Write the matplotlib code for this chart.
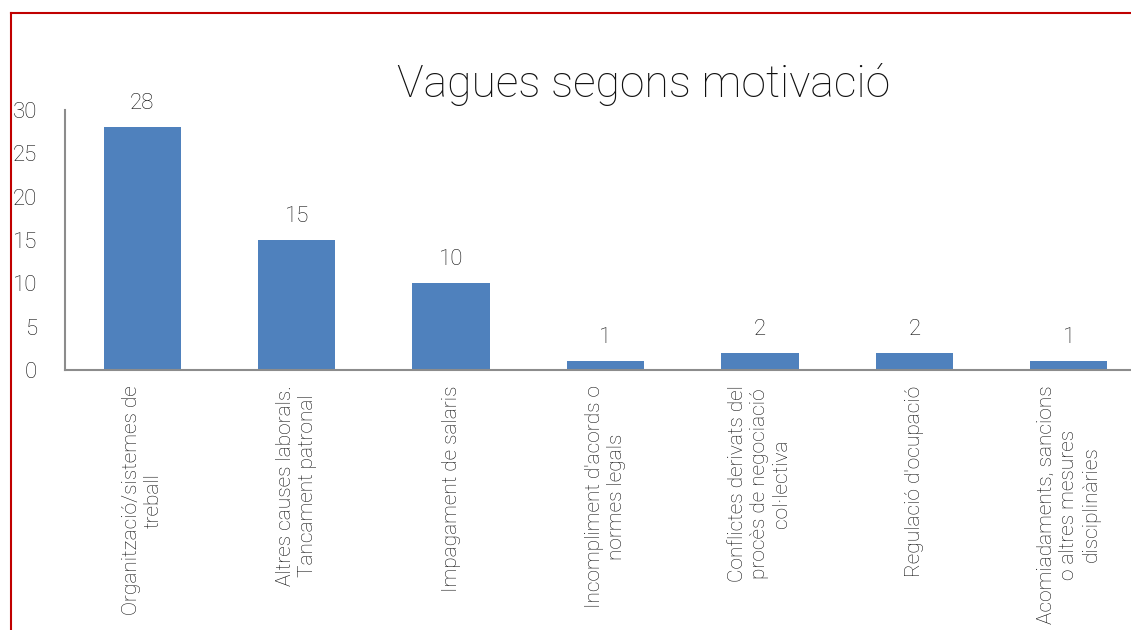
import matplotlib.pyplot as plt
from matplotlib.lines import Line2D

# Strike counts by motive
categories = [
    "Organització/sistemes de\ntreball",
    "Altres causes laborals.\nTancament patronal",
    "Impagament de salaris",
    "Incompliment d'acords o\nnormes legals",
    "Conflictes derivats del\nprocès de negociació\ncol·lectiva",
    "Regulació d'ocupació",
    "Acomiadaments, sancions\no altres mesures\ndisciplinàries",
]
values = [28, 15, 10, 1, 2, 2, 1]
yticks = [0, 5, 10, 15, 20, 25, 30]

plt.rcParams['font.family'] = ['Roboto', 'DejaVu Sans']
plt.rcParams['font.weight'] = 'light'
txt = '#111111'

fig = plt.figure(figsize=(11.31, 6.30), dpi=100)
ax = fig.add_axes([65 / 1131, 1 - 370 / 630, 1081 / 1131, 260 / 630])

x = range(len(values))
bars = ax.bar(x, values, width=0.5, color='#4F81BD')
for b, v in zip(bars, values):
    ax.text(b.get_x() + b.get_width() / 2, v + 1.5, str(v), ha='center', va='bottom',
            fontsize=16, color=txt)

ax.set_xlim(-0.5, len(values) - 0.5)
ax.set_ylim(0, 30)
ax.set_yticks(yticks)
ax.set_yticklabels([str(t) for t in yticks], fontsize=16, color=txt)
ax.set_xticks(list(x))
ax.set_xticklabels(categories, rotation=90, fontsize=15, color=txt,
                   ha='center', va='top', multialignment='center', linespacing=1.2)
ax.tick_params(axis='y', length=0, pad=20)
ax.tick_params(axis='x', length=0, pad=11)

for s in ['top', 'right']:
    ax.spines[s].set_visible(False)
for s in ['left', 'bottom']:
    ax.spines[s].set_color('#8c8c8c')
    ax.spines[s].set_linewidth(1.5)

fig.text(644 / 1131, 1 - 85 / 630, "Vagues segons motivació", ha='center', va='center',
         fontsize=32, color=txt)

# dark red frame along left and top
fig.add_artist(Line2D([11 / 1131, 11 / 1131], [0, 1 - 13 / 630], color='#C00000', lw=1.5))
fig.add_artist(Line2D([11 / 1131, 1], [1 - 13 / 630, 1 - 13 / 630], color='#C00000', lw=1.5))

fig.savefig('out.png', dpi=100)
